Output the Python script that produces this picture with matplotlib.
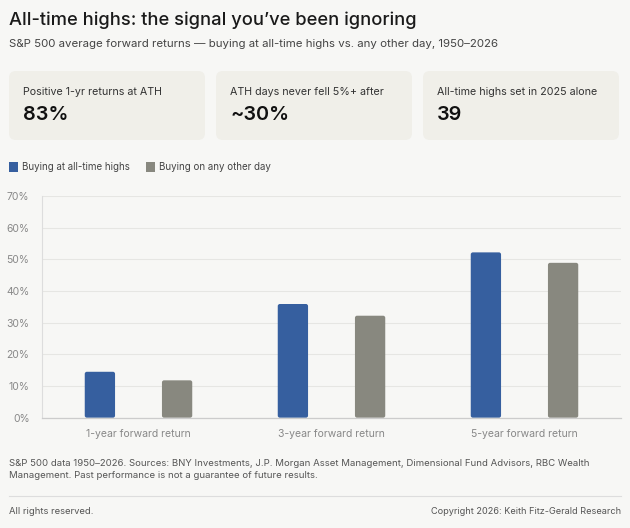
import matplotlib
matplotlib.use('Agg')
import numpy as np
from matplotlib import pyplot as plt
from matplotlib.patches import FancyBboxPatch, Rectangle
from matplotlib.lines import Line2D

# data
categories = ['1-year forward return', '3-year forward return', '5-year forward return']
ath_returns = [14.5, 35.9, 52.2]
other_returns = [11.8, 32.2, 48.9]
series_names = ['Buying at all-time highs', 'Buying on any other day']
yticks = [0, 10, 20, 30, 40, 50, 60, 70]
card_labels = ['Positive 1-yr returns at ATH', 'ATH days never fell 5%+ after',
               'All-time highs set in 2025 alone']
card_values = ['83%', '~30%', '39']

BG = '#f7f7f5'
CARD = '#f0efe9'
BLUE = '#365f9f'
GREY = '#88887f'
W, H = 630, 528

plt.rcParams['font.family'] = ['Inter', 'DejaVu Sans']

fig = plt.figure(figsize=(W / 100, H / 100), dpi=100, facecolor=BG)


def fx(px):
    return px / W


def fy(py):
    return 1 - py / H


# header
fig.text(fx(9), fy(20), 'All-time highs: the signal you\u2019ve been ignoring',
         fontsize=13.2, fontweight='medium', color='#1a1a1a', va='center')
fig.text(fx(9), fy(44), 'S&P 500 average forward returns \u2014 buying at all-time highs vs. any other day, 1950\u20132026',
         fontsize=8.25, color='#444444', va='center')

# stat cards
card_x = [9, 216, 423]
card_w = 196
for x0, lab, val in zip(card_x, card_labels, card_values):
    box = FancyBboxPatch((fx(x0), fy(140)), fx(card_w), (140 - 71) / H,
                         boxstyle='round,pad=0,rounding_size=0.011',
                         mutation_aspect=W / H, transform=fig.transFigure,
                         facecolor=CARD, edgecolor='none', zorder=0)
    fig.patches.append(box)
    fig.text(fx(x0 + 14), fy(92), lab, fontsize=7.7, color='#333333', va='center')
    fig.text(fx(x0 + 14), fy(115), val, fontsize=14.3, fontweight='semibold',
             color='#111111', va='center')

# legend
for lx, name, col in zip([9, 146], series_names, [BLUE, GREY]):
    fig.patches.append(Rectangle((fx(lx), fy(171.5)), fx(9), 9 / H,
                                 transform=fig.transFigure, facecolor=col,
                                 edgecolor='none'))
    fig.text(fx(lx + 13), fy(167.5), name, fontsize=7.0, color='#444444', va='center')

# chart
ax = fig.add_axes([fx(42), fy(417.7), fx(621 - 42), (417.7 - 196) / H])
ax.set_facecolor(BG)
x = np.arange(len(categories))
bw = 0.157
bars = list(ax.bar(x - 0.2, ath_returns, bw, color=BLUE, zorder=3)) + \
    list(ax.bar(x + 0.2, other_returns, bw, color=GREY, zorder=3))
ax.set_xlim(-0.5, 2.5)
ax.set_ylim(0, 70)

# rounded bar corners
aspect = (70 / 221.7) / (3 / 579)
for b in bars:
    rb = FancyBboxPatch((b.get_x(), b.get_y()), b.get_width(), b.get_height(),
                        boxstyle='round,pad=0,rounding_size=0.011',
                        mutation_aspect=aspect, facecolor=b.get_facecolor(),
                        edgecolor='none', zorder=3)
    ax.add_patch(rb)
    b.set_visible(False)

ax.set_yticks(yticks)
ax.set_yticklabels([f'{v}%' for v in yticks])
ax.set_xticks(x)
ax.set_xticklabels(categories)
ax.tick_params(axis='both', length=0, labelsize=7.5, labelcolor='#888888')
ax.tick_params(axis='y', pad=9)
ax.tick_params(axis='x', pad=8)
ax.grid(axis='y', color='#e6e6e3', linewidth=0.8, zorder=0)
for s in ['top', 'right']:
    ax.spines[s].set_visible(False)
ax.spines['left'].set_color('#dddddd')
ax.spines['bottom'].set_color('#cccccc')
ax.spines['left'].set_linewidth(0.8)
ax.spines['bottom'].set_linewidth(0.9)
ax.spines['bottom'].set_zorder(4)

# footer
fig.text(fx(9), fy(463), 'S&P 500 data 1950\u20132026. Sources: BNY Investments, J.P. Morgan Asset Management, Dimensional Fund Advisors, RBC Wealth',
         fontsize=6.9, color='#555555', va='center')
fig.text(fx(9), fy(476), 'Management. Past performance is not a guarantee of future results.',
         fontsize=6.9, color='#555555', va='center')
fig.lines.append(Line2D([fx(9), fx(621)], [fy(496), fy(496)], transform=fig.transFigure,
                        color='#dddddd', linewidth=0.8))
fig.text(fx(9), fy(512), 'All rights reserved.', fontsize=6.8, color='#555555', va='center')
fig.text(fx(621), fy(512), 'Copyright 2026: Keith Fitz-Gerald Research', fontsize=6.6,
         color='#555555', va='center', ha='right')

fig.savefig('out.png', dpi=100, facecolor=BG)
